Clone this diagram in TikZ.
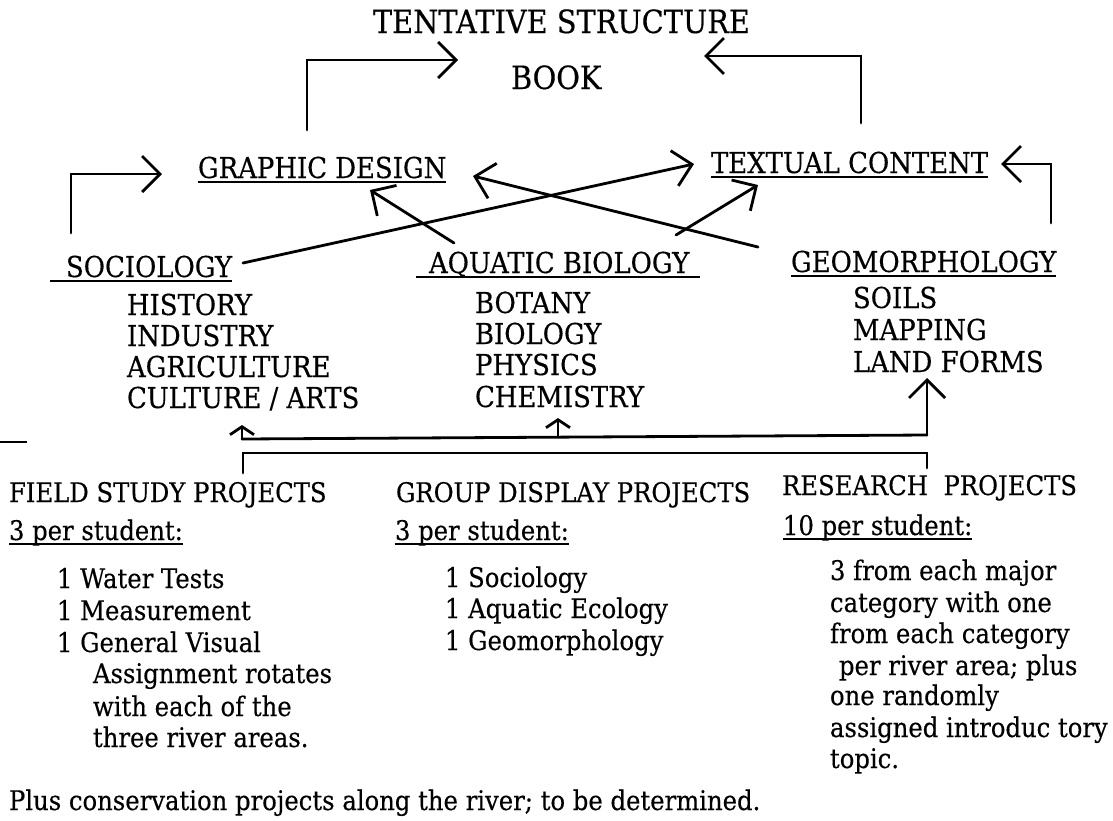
\documentclass[tikz,border=0pt]{standalone}
\usepackage{fontspec}
\setmainfont[FakeStretch=0.9,FakeBold=0.4]{DejaVu Serif}
\usetikzlibrary{arrows.meta}
\newcommand\myul[1]{\setbox0\hbox{#1}\rlap{\rule[-5pt]{\wd0}{1.8pt}}\box0}
\tikzset{
  head/.style={font=\fontsize{32}{36}\selectfont},
  big/.style={font=\fontsize{28.8}{31}\selectfont},
  small/.style={font=\fontsize{27}{32}\selectfont},
  txt/.style={anchor=base west, inner sep=0pt, outer sep=0pt},
  conn/.style={line width=2.8pt, line cap=round, line join=miter},
  bigtip/.style={conn, -{Straight Barb[length=18pt,width=36pt,line width=2.8pt]}},
  smalltip/.style={conn, -{Straight Barb[length=8pt,width=24pt,line width=2.8pt]}},
}
\begin{document}
\begin{tikzpicture}[x=1pt,y=-1pt]
\useasboundingbox (0,0) rectangle (1113,820);
% texts
\node[txt,head] (title) at (373,33) {TENTATIVE STRUCTURE};
\node[txt,head] (book) at (511,89) {BOOK};
\node[txt,big] (gd) at (198,178) {\myul{GRAPHIC DESIGN}};
\node[txt,big] (tc) at (711,173) {\myul{TEXTUAL CONTENT}};
\node[txt,big] (soc) at (50,277) {\myul{\hspace*{16pt}SOCIOLOGY}};
\node[txt,big] (aq) at (416,273) {\myul{\hspace*{13pt}AQUATIC BIOLOGY\hspace*{11pt}}};
\node[txt,big] (geo) at (791,272) {\myul{GEOMORPHOLOGY}};
\node[txt,big] (soc1) at (127,315) {HISTORY};
\node[txt,big] (soc2) at (127,346) {INDUSTRY};
\node[txt,big] (soc3) at (127,377) {AGRICULTURE};
\node[txt,big] (soc4) at (127,408) {CULTURE / ARTS};
\node[txt,big] (aq1) at (475,313) {BOTANY};
\node[txt,big] (aq2) at (475,344) {BIOLOGY};
\node[txt,big] (aq3) at (475,375) {PHYSICS};
\node[txt,big] (aq4) at (475,407) {CHEMISTRY};
\node[txt,big] (geo1) at (853,308) {SOILS};
\node[txt,big] (geo2) at (853,340) {MAPPING};
\node[txt,big] (geo3) at (853,372) {LAND FORMS};
\node[txt,small] (field) at (9,502) {FIELD STUDY PROJECTS};
\node[txt,small] (group) at (396,502) {GROUP DISPLAY PROJECTS};
\node[txt,small] (res) at (782,495) {RESEARCH\ \ PROJECTS};
\node[txt,small] (fper) at (9,540) {\myul{3 per student:}};
\node[txt,small] (gper) at (395,540) {\myul{3 per student:}};
\node[txt,small] (rper) at (783,535) {\myul{10 per student:}};
\node[txt,small] (f1) at (57,588) {1 Water Tests};
\node[txt,small] (f2) at (57,620) {1 Measurement};
\node[txt,small] (f3) at (57,652) {1 General Visual};
\node[txt,small] (f4) at (93,683) {Assignment rotates};
\node[txt,small] (f5) at (93,716) {with each of the};
\node[txt,small] (f6) at (93,747) {three river areas.};
\node[txt,small] (g1) at (445,587) {1 Sociology};
\node[txt,small] (g2) at (445,618) {1 Aquatic Ecology};
\node[txt,small] (g3) at (445,650) {1 Geomorphology};
\node[txt,small] (r1) at (830,580) {3 from each major};
\node[txt,small] (r2) at (830,612) {category with one};
\node[txt,small] (r3) at (830,643) {from each category};
\node[txt,small] (r4) at (839,675) {per river area; plus};
\node[txt,small] (r5) at (830,705) {one randomly};
\node[txt,small] (r6) at (830,737) {assigned introduc tory};
\node[txt,small] (r7) at (830,768) {topic.};
\node[txt,small] (plus) at (9,810) {Plus conservation projects along the river; to be determined.};
% connector coordinates
\coordinate (gdtop) at (307,130);
\coordinate (bookL) at (458,60);
\coordinate (tctop) at (861,123);
\coordinate (bookR) at (704,56);
\coordinate (socup) at (71,233);
\coordinate (gdL) at (162,174);
\coordinate (geoup) at (1051,223);
\coordinate (tcR) at (1001,164);
\coordinate (socR) at (243,263);
\coordinate (tcLtip) at (694,164);
\coordinate (aqL) at (454,243);
\coordinate (gdB) at (370,190);
\coordinate (geoL) at (758,247);
\coordinate (gdBR) at (473,176);
\coordinate (aqR) at (676,235);
\coordinate (tcB) at (758,185);
\coordinate (j1) at (242,439);
\coordinate (j2) at (558,437);
\coordinate (j3) at (927,435);
\coordinate (tsoc) at (242,425);
\coordinate (taq) at (558,418);
\coordinate (tgeo) at (927,378);
\coordinate (ffoot) at (243,473);
\coordinate (rfoot) at (927,468);
\coordinate (dashA) at (0,442);
\coordinate (dashB) at (27,442);
% connectors
\draw[bigtip] (gdtop) |- (bookL);
\draw[bigtip] (tctop) |- (bookR);
\draw[bigtip] (socup) |- (gdL);
\draw[bigtip] (geoup) |- (tcR);
\draw[bigtip] (socR) -- (tcLtip);
\draw[bigtip] (aqL) -- (gdB);
\draw[bigtip] (geoL) -- (gdBR);
\draw[bigtip] (aqR) -- (tcB);
\draw[conn] (j1) -- (j3);
\draw[smalltip] (j1) -- (tsoc);
\draw[smalltip] (j2) -- (taq);
\draw[bigtip] (j3) -- (tgeo);
\draw[conn] (ffoot) -- ++(0,-20) -| (rfoot);
\draw[line width=1.6pt] (dashA) -- (dashB);
\end{tikzpicture}
\end{document}
